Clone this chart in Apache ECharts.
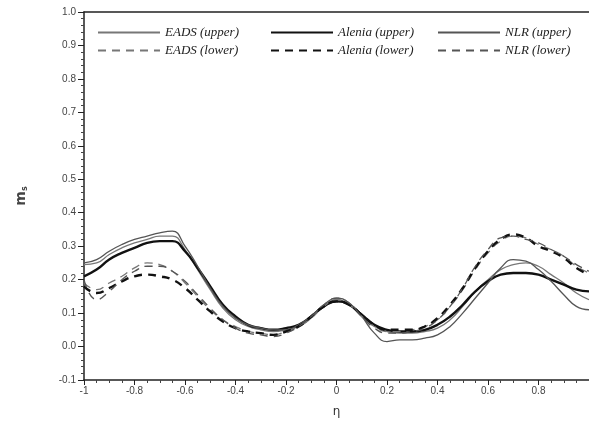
<!DOCTYPE html>
<html>
<head>
<meta charset="utf-8">
<script src="https://cdn.jsdelivr.net/npm/echarts@6/dist/echarts.min.js"></script>
<style>
  html, body { margin: 0; padding: 0; background: #fff; }
  #chart { width: 589px; height: 423px; }
</style>
</head>
<body>
<div id="chart"></div>
<script>
// eje eta (envergadura), paso 0.05
var eta = [-1, -0.95, -0.9, -0.85, -0.8, -0.75, -0.7, -0.65, -0.6, -0.55, -0.5, -0.45, -0.4, -0.35, -0.3, -0.25, -0.2, -0.15, -0.1, -0.05,
    0, 0.05, 0.1, 0.15, 0.2, 0.25, 0.3, 0.35, 0.4, 0.45, 0.5, 0.55, 0.6, 0.65, 0.7, 0.75, 0.8, 0.85, 0.9, 0.95, 1];

var eadsUpper = [0.245, 0.25, 0.275, 0.295, 0.31, 0.32, 0.33, 0.33, 0.29, 0.23, 0.17, 0.115, 0.08, 0.06, 0.05, 0.045, 0.05, 0.06, 0.085, 0.12,
    0.14, 0.125, 0.09, 0.06, 0.045, 0.04, 0.04, 0.045, 0.055, 0.08, 0.12, 0.165, 0.2, 0.23, 0.245, 0.25, 0.24, 0.215, 0.19, 0.16, 0.14];
var aleniaUpper = [0.21, 0.23, 0.26, 0.28, 0.295, 0.31, 0.315, 0.315, 0.285, 0.235, 0.18, 0.125, 0.09, 0.065, 0.055, 0.05, 0.055, 0.065, 0.09, 0.12,
    0.135, 0.125, 0.095, 0.065, 0.05, 0.045, 0.045, 0.05, 0.065, 0.09, 0.125, 0.165, 0.195, 0.215, 0.22, 0.22, 0.215, 0.2, 0.185, 0.17, 0.165];
var nlrUpper = [0.25, 0.26, 0.285, 0.305, 0.32, 0.33, 0.34, 0.345, 0.3, 0.24, 0.175, 0.12, 0.085, 0.065, 0.055, 0.05, 0.05, 0.065, 0.09, 0.125,
    0.145, 0.13, 0.09, 0.04, 0.015, 0.02, 0.02, 0.025, 0.035, 0.06, 0.1, 0.145, 0.19, 0.235, 0.26, 0.255, 0.23, 0.195, 0.155, 0.12, 0.11];
var eadsLower = [0.19, 0.17, 0.19, 0.21, 0.235, 0.25, 0.245, 0.225, 0.19, 0.15, 0.11, 0.08, 0.06, 0.045, 0.04, 0.035, 0.045, 0.06, 0.085, 0.12,
    0.14, 0.125, 0.09, 0.06, 0.045, 0.045, 0.05, 0.06, 0.08, 0.12, 0.17, 0.23, 0.28, 0.315, 0.33, 0.325, 0.305, 0.29, 0.27, 0.24, 0.22];
var aleniaLower = [0.18, 0.16, 0.175, 0.195, 0.21, 0.215, 0.21, 0.2, 0.175, 0.14, 0.105, 0.075, 0.055, 0.045, 0.04, 0.035, 0.045, 0.06, 0.09, 0.12,
    0.135, 0.125, 0.095, 0.065, 0.05, 0.05, 0.05, 0.06, 0.085, 0.125, 0.175, 0.235, 0.285, 0.32, 0.335, 0.325, 0.3, 0.285, 0.265, 0.235, 0.215];
var nlrLower = [0.2, 0.14, 0.165, 0.2, 0.225, 0.24, 0.24, 0.225, 0.195, 0.155, 0.115, 0.08, 0.055, 0.04, 0.035, 0.03, 0.04, 0.06, 0.09, 0.125,
    0.145, 0.13, 0.09, 0.055, 0.04, 0.04, 0.045, 0.055, 0.08, 0.12, 0.175, 0.24, 0.29, 0.325, 0.33, 0.32, 0.31, 0.29, 0.27, 0.245, 0.225];

var upperNames = ['EADS (upper)', 'Alenia (upper)', 'NLR (upper)'];
var lowerNames = ['EADS (lower)', 'Alenia (lower)', 'NLR (lower)'];

// pares [eta, valor]
pares = (ys) => eta.map((x, i) => [x, ys[i]]);

var myChart = echarts.init(document.getElementById('chart'));

// cada entrada de la leyenda en su propia columna para alinear como el original
var legendText = { fontFamily: 'Liberation Serif', fontStyle: 'italic', fontSize: 13, color: '#222' };
var legendCols = [92, 265, 432];
var legends = [];
for (var i = 0; i < 3; i++) {
    legends.push({ data: [upperNames[i]], left: legendCols[i], top: 21, itemWidth: 62, itemHeight: 10,
        textStyle: legendText, itemStyle: { opacity: 0 } });
    legends.push({ data: [lowerNames[i]], left: legendCols[i], top: 39, itemWidth: 62, itemHeight: 10,
        textStyle: legendText, itemStyle: { opacity: 0 } });
}

var option = {
    animation: false,
    grid: { left: 84, top: 12, right: 0, bottom: 42 },
    legend: legends,
    xAxis: [{
        type: 'value',
        min: -1,
        max: 1,
        interval: 0.2,
        name: 'η',
        nameLocation: 'middle',
        nameGap: 26,
        nameTextStyle: { fontFamily: 'DejaVu Sans', fontSize: 12, color: '#333' },
        axisLine: { onZero: false, lineStyle: { color: '#222', width: 1.5 } },
        axisTick: { length: 5, lineStyle: { color: '#222' } },
        minorTick: { show: true, splitNumber: 4, length: 3, lineStyle: { color: '#444' } },
        axisLabel: { showMaxLabel: false, fontFamily: 'Liberation Sans', fontSize: 10, color: '#444', margin: 6 },
        splitLine: { show: false }
    }, {
        type: 'value',
        position: 'top',
        min: -1,
        max: 1,
        axisLine: { onZero: false, lineStyle: { color: '#222', width: 1.5 } },
        axisTick: { show: false },
        axisLabel: { show: false },
        splitLine: { show: false }
    }],
    yAxis: {
        type: 'value',
        min: -0.1,
        max: 1.0,
        interval: 0.1,
        name: '{a|m}{b|s}',
        nameLocation: 'middle',
        nameRotate: 90,
        nameGap: 55,
        nameTextStyle: {
            rich: {
                a: { fontFamily: 'DejaVu Sans', fontSize: 14, fontWeight: 'bold', color: '#444' },
                b: { fontFamily: 'DejaVu Sans', fontSize: 8, fontWeight: 'bold', color: '#444', padding: [8, 0, 0, 0] }
            }
        },
        axisLine: { show: true, onZero: false, lineStyle: { color: '#222', width: 1.5 } },
        axisTick: { length: 6, lineStyle: { color: '#222' } },
        minorTick: { show: true, splitNumber: 5, length: 3, lineStyle: { color: '#444' } },
        axisLabel: {
            fontFamily: 'Liberation Sans', fontSize: 10, color: '#444', margin: 8,
            formatter: function (v) { return v.toFixed(1); }
        },
        splitLine: { show: false }
    },
    series: [
        { name: 'EADS (upper)', type: 'line', smooth: true, symbol: 'none', data: pares(eadsUpper),
          lineStyle: { color: '#777', width: 1.3 }, itemStyle: { color: '#777' } },
        { name: 'Alenia (upper)', type: 'line', smooth: true, symbol: 'none', data: pares(aleniaUpper),
          lineStyle: { color: '#111', width: 2.4 }, itemStyle: { color: '#111' } },
        { name: 'NLR (upper)', type: 'line', smooth: true, symbol: 'none', data: pares(nlrUpper),
          lineStyle: { color: '#555', width: 1.3 }, itemStyle: { color: '#555' } },
        { name: 'EADS (lower)', type: 'line', smooth: true, symbol: 'none', data: pares(eadsLower),
          lineStyle: { color: '#777', width: 1.3, type: [8, 6] }, itemStyle: { color: '#777' } },
        { name: 'Alenia (lower)', type: 'line', smooth: true, symbol: 'none', data: pares(aleniaLower),
          lineStyle: { color: '#111', width: 2.4, type: [8, 6] }, itemStyle: { color: '#111' } },
        { name: 'NLR (lower)', type: 'line', smooth: true, symbol: 'none', data: pares(nlrLower),
          lineStyle: { color: '#555', width: 1.3, type: [8, 6] }, itemStyle: { color: '#555' } }
    ]
};

myChart.setOption(option);
</script>
</body>
</html>
